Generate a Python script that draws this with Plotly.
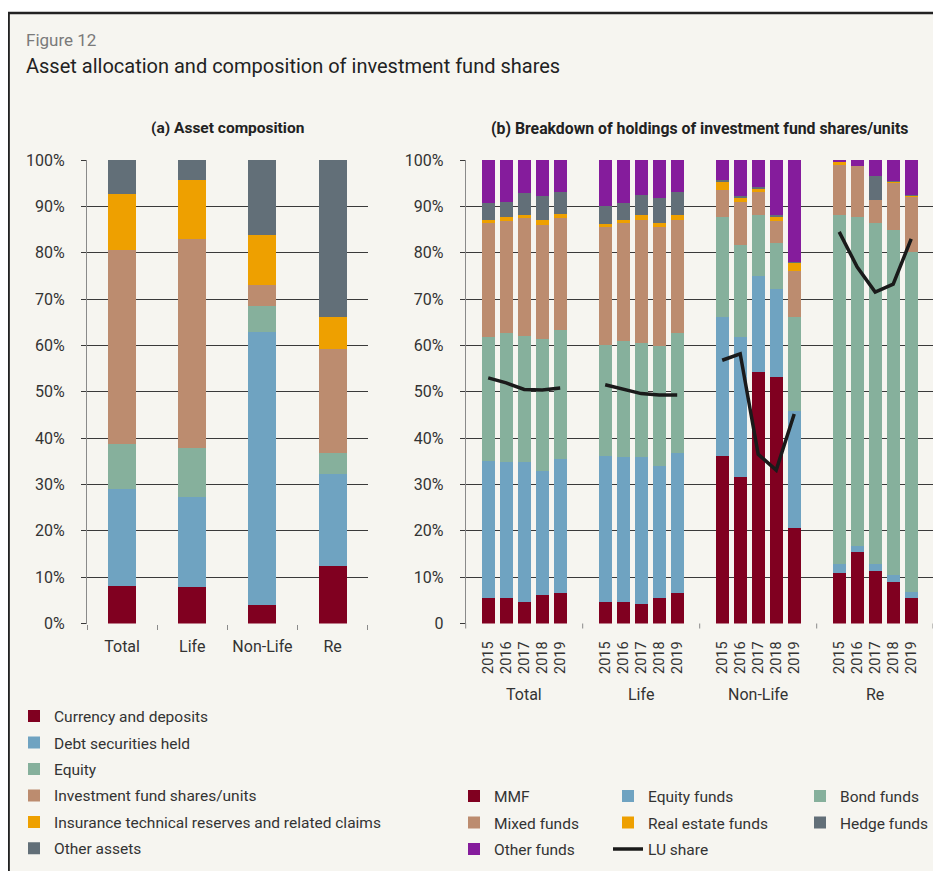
import plotly.graph_objects as go

# ---------------- data ----------------
left_categories = ["Total", "Life", "Non-Life", "Re"]
currency_deposits = [8.1, 7.9, 3.9, 12.5]
debt_securities = [20.9, 19.3, 58.9, 19.7]
equity = [9.8, 10.6, 5.6, 4.5]
investment_fund_shares = [41.7, 45.1, 4.6, 22.5]
insurance_reserves = [12.2, 12.8, 10.9, 6.9]
other_assets = [7.3, 4.3, 16.1, 33.9]

groups = ["Total", "Life", "Non-Life", "Re"]
years = ["2015", "2016", "2017", "2018", "2019"]
mmf = [5.4, 5.4, 4.7, 6.2, 6.5, 4.7, 4.7, 4.3, 5.6, 6.5,
       36.2, 31.7, 54.2, 53.1, 20.5, 11.0, 15.5, 11.4, 9.0, 5.6]
equity_funds = [29.7, 29.5, 30.2, 26.7, 29.0, 31.5, 31.2, 31.6, 28.4, 30.3,
                30.0, 30.1, 20.8, 19.1, 25.3, 1.9, 1.3, 1.5, 1.5, 1.2]
bond_funds = [26.7, 27.8, 27.1, 28.5, 27.8, 23.9, 25.0, 24.6, 25.8, 25.9,
              21.6, 19.9, 13.2, 10.0, 20.4, 75.2, 71.0, 73.5, 74.4, 73.4]
mixed_funds = [24.7, 24.1, 25.5, 24.5, 24.2, 25.4, 25.5, 26.5, 25.7, 24.3,
               5.7, 9.2, 4.8, 4.6, 9.8, 11.0, 10.8, 4.9, 10.3, 12.0]
real_estate_funds = [0.5, 0.8, 0.6, 1.1, 0.8, 0.7, 0.6, 1.1, 1.0, 1.1,
                     1.9, 1.0, 0.7, 1.0, 1.8, 0.4, 0.0, 0.0, 0.2, 0.1]
hedge_funds = [3.7, 3.3, 4.7, 5.2, 4.7, 3.8, 3.7, 4.3, 5.4, 4.9,
               0.2, 0.3, 0.5, 0.3, 0.3, 0.0, 0.0, 5.2, 0.1, 0.1]
other_funds = [9.3, 9.1, 7.2, 7.8, 7.0, 10.0, 9.3, 7.6, 8.1, 7.0,
               4.4, 7.8, 5.8, 11.9, 21.9, 0.5, 1.4, 3.5, 4.5, 7.7]
lu_share = [53.0, 51.9, 50.5, 50.4, 50.8, 51.5, 50.6, 49.6, 49.3, 49.3,
            56.8, 58.2, 36.5, 33.1, 45.2, 84.5, 76.9, 71.5, 73.2, 83.0]

pct_ticks = list(range(0, 101, 10))

# ---------------- styling / geometry ----------------
OFF = 8                      # default page margin of the html body
W, H = 941 - OFF, 871 - OFF  # figure size so that it fills the window
FONT = "Roboto"
TXT = "#333333"
BG = "#f6f5f0"
GRID = "#3a3a3a"
TICKC = "#8a8a8a"
C_RED, C_BLUE, C_GREEN = "#800020", "#6fa3c1", "#86b09c"
C_BROWN, C_ORANGE, C_SLATE, C_PURPLE = "#bc8c6f", "#eea000", "#626f78", "#851c9c"


def fx(p):  # window pixel -> paper x
    return (p - OFF) / W


def fy(p):  # window pixel -> paper y
    return 1 - (p - OFF) / H


PLOT_TOP, PLOT_BOT = 160, 623.5
LEFT_X0, LEFT_X1 = 87, 367.7
RIGHT_X0, GROUP_W = 465.7, 117.0
y_dom = [fy(PLOT_BOT), fy(PLOT_TOP)]

fig = go.Figure()

left_series = [
    ("Currency and deposits", currency_deposits, C_RED),
    ("Debt securities held", debt_securities, C_BLUE),
    ("Equity", equity, C_GREEN),
    ("Investment fund shares/units", investment_fund_shares, C_BROWN),
    ("Insurance technical reserves and related claims", insurance_reserves, C_ORANGE),
    ("Other assets", other_assets, C_SLATE),
]
for i, (name, vals, col) in enumerate(left_series):
    fig.add_trace(go.Bar(x=left_categories, y=vals, name=name, marker_color=col,
                         marker_line_width=0, width=0.4, xaxis="x", yaxis="y",
                         legend="legend", legendgroup=f"l{i}"))

right_series = [
    ("MMF", mmf, C_RED, "legend2"),
    ("Equity funds", equity_funds, C_BLUE, "legend3"),
    ("Bond funds", bond_funds, C_GREEN, "legend4"),
    ("Mixed funds", mixed_funds, C_BROWN, "legend2"),
    ("Real estate funds", real_estate_funds, C_ORANGE, "legend3"),
    ("Hedge funds", hedge_funds, C_SLATE, "legend4"),
    ("Other funds", other_funds, C_PURPLE, "legend2"),
]
n = len(years)
for i, (name, vals, col, lg) in enumerate(right_series):
    for k, g in enumerate(groups):
        fig.add_trace(go.Bar(x=years, y=vals[k * n:(k + 1) * n], name=name,
                             marker_color=col, marker_line_width=0, width=0.74,
                             xaxis=f"x{k + 2}", yaxis="y2", legend=lg,
                             legendgroup=f"r{i}", showlegend=(k == 0)))

for k, g in enumerate(groups):
    fig.add_trace(go.Scatter(x=years, y=lu_share[k * n:(k + 1) * n], name="LU share",
                             mode="lines", line=dict(color="#1a1a1a", width=3.5),
                             xaxis=f"x{k + 2}", yaxis="y2", legend="legend3",
                             legendgroup="lu", showlegend=(k == 0)))

axis_font = dict(family=FONT, size=16, color=TXT)
common_y = dict(range=[0, 100], tickvals=pct_ticks, showgrid=True, gridcolor=GRID,
                gridwidth=1, ticks="outside", ticklen=5, tickcolor=GRID,
                showline=True, linecolor=TICKC, linewidth=1, zeroline=False,
                tickfont=axis_font, ticklabelstandoff=13, domain=y_dom, fixedrange=True)

legend_common = dict(font=dict(family=FONT, size=15.5, color=TXT), bgcolor="rgba(0,0,0,0)",
                     traceorder="grouped", tracegroupgap=3.3, xanchor="left", yanchor="top",
                     orientation="v", itemclick=False, borderwidth=0)

layout = dict(
    width=W, height=H,
    margin=dict(l=0, r=0, t=0, b=0, autoexpand=False),
    paper_bgcolor="white",
    plot_bgcolor="rgba(0,0,0,0)",
    barmode="stack",
    font=dict(family=FONT, color=TXT),
    xaxis=dict(domain=[fx(LEFT_X0), fx(LEFT_X1)], type="category", range=[-0.5, 3.5],
               tickson="boundaries", ticks="outside", ticklen=5, tickcolor=TICKC,
               showgrid=False, showline=False, zeroline=False, tickfont=axis_font,
               ticklabelstandoff=11, anchor="y", fixedrange=True),
    yaxis=dict(anchor="x", ticktext=[f"{v}%" for v in pct_ticks], **common_y),
    yaxis2=dict(anchor="x2", ticktext=["0"] + [f"{v}%" for v in pct_ticks[1:]], **common_y),
    legend=dict(x=fx(14), y=fy(699.5), **legend_common),
    legend2=dict(x=fx(454), y=fy(779.5), **legend_common),
    legend3=dict(x=fx(608), y=fy(779.5), **legend_common),
    legend4=dict(x=fx(800), y=fy(779.5), **legend_common),
    showlegend=True,
)
for k, g in enumerate(groups):
    x0 = RIGHT_X0 + k * GROUP_W
    x1 = min(x0 + GROUP_W, 941 - 0.5)
    layout[f"xaxis{k + 2}"] = dict(
        domain=[fx(x0), min(fx(x1), 1.0)], type="category", categoryorder="array",
        categoryarray=years, range=[-1.25, 5.25], tickangle=-90, ticks="",
        showgrid=False, showline=False, zeroline=False,
        tickfont=dict(family=FONT, size=14.5, color=TXT), ticklabelstandoff=14,
        anchor="y2", fixedrange=True)
fig.update_layout(**layout)

# panel background and frame
fig.add_shape(type="rect", xref="paper", yref="paper", x0=fx(7), x1=1.0, y0=0, y1=fy(13),
              fillcolor=BG, line_width=0, layer="below")
fig.add_shape(type="line", xref="paper", yref="paper", x0=fx(7), x1=1.0, y0=fy(13), y1=fy(13),
              line=dict(color="#222222", width=2.5))
fig.add_shape(type="line", xref="paper", yref="paper", x0=fx(8.6), x1=fx(8.6), y0=0, y1=fy(13),
              line=dict(color="#222222", width=2.5))

# group divider ticks under panel (b)
for k in range(len(groups) + 1):
    xp = fx(min(RIGHT_X0 + k * GROUP_W, 933))
    fig.add_shape(type="line", xref="paper", yref="paper", x0=xp, x1=xp,
                  y0=fy(PLOT_BOT), y1=fy(PLOT_BOT + 5), line=dict(color=TICKC, width=1))

# titles
fig.add_annotation(text="Figure 12", xref="paper", yref="paper", x=fx(24), y=fy(40),
                   xanchor="left", yanchor="middle", showarrow=False,
                   font=dict(family=FONT, size=17, color="#7a7a7a"))
fig.add_annotation(text="Asset allocation and composition of investment fund shares",
                   xref="paper", yref="paper", x=fx(24), y=fy(66), xanchor="left",
                   yanchor="middle", showarrow=False,
                   font=dict(family=FONT, size=20, color="#222222"))
fig.add_annotation(text="<b>(a) Asset composition</b>", xref="paper", yref="paper",
                   x=fx(227), y=fy(128), xanchor="center", yanchor="middle", showarrow=False,
                   font=dict(family=FONT, size=15.5, color="#222222"))
fig.add_annotation(text="<b>(b) Breakdown of holdings of investment fund shares/units</b>",
                   xref="paper", yref="paper", x=fx(699), y=fy(128), xanchor="center",
                   yanchor="middle", showarrow=False,
                   font=dict(family=FONT, size=15.8, color="#222222"))
for k, g in enumerate(groups):
    fig.add_annotation(text=g, xref=f"x{k + 2} domain", yref="paper", x=0.5, y=fy(694),
                       xanchor="center", yanchor="middle", showarrow=False,
                       font=dict(family=FONT, size=16, color=TXT))

fig.write_html("out.html")
